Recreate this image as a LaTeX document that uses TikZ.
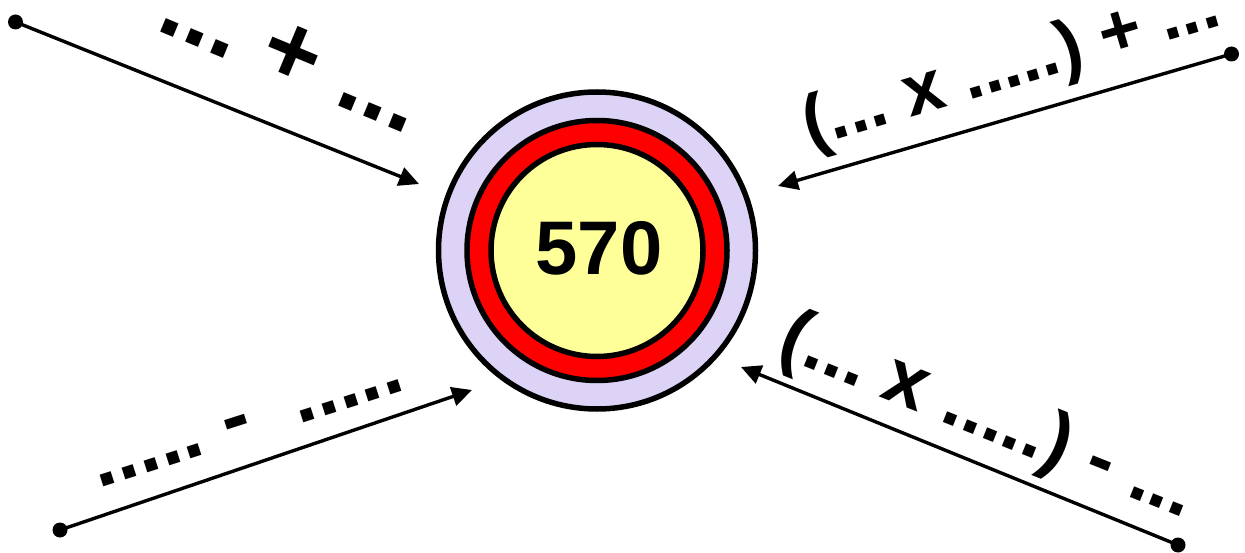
\documentclass[tikz,border=0pt]{standalone}
\usepackage{fontspec}
\setmainfont{Liberation Sans}
\usetikzlibrary{arrows.meta}
\definecolor{lav}{HTML}{DDD3F7}
\definecolor{ylw}{HTML}{FFFF99}
\tikzset{
  ring/.style={circle, draw=black, line width=5.5pt, inner sep=0pt},
  enddot/.style={circle, fill=black, inner sep=0pt, minimum size=15pt},
  conn/.style={line width=3.4pt, -{Triangle[length=20pt,width=19pt]}},
  lbl/.style={inner sep=0pt, anchor=base, font=\bfseries},
}
\newcommand{\fsz}[1]{\fontsize{#1}{#1}\selectfont}
\begin{document}
\begin{tikzpicture}[x=1pt,y=-1pt]
\useasboundingbox (0,0) rectangle (1245,553);
% central rings
\node[ring, fill=lav, minimum size=317pt] (outer) at (597,250.5) {};
\node[ring, fill=red, minimum size=260pt] (mid) at (597,250.5) {};
\node[ring, fill=ylw, minimum size=212pt] (inner) at (597,250.5) {};
\node[inner sep=0pt, font=\bfseries\fsz{76}] (num) at (599,248) {570};
% end dots and arrow tips
\node[enddot] (d1) at (15.5,22) {};
\coordinate (t1) at (419,184);
\node[enddot] (d2) at (1231.5,54) {};
\coordinate (t2) at (778,186);
\node[enddot] (d3) at (60,530) {};
\coordinate (t3) at (472,390);
\node[enddot] (d4) at (1178,545) {};
\coordinate (t4) at (741,367);
\draw[conn] (d1.center) -- (t1);
\draw[conn] (d2.center) -- (t2);
\draw[conn] (d3.center) -- (t3);
\draw[conn] (d4.center) -- (t4);
% labels
\node[lbl, rotate=-22.6, font=\bfseries\fsz{98}] (l1) at (281,82) {...\ +\ ...};
\node[lbl, rotate=16.5, font=\bfseries\fsz{72}] (l2) at (1017,86) {(...\ x\ .....)\ +\ ...};
\node[lbl, rotate=17.7, font=\bfseries\fsz{82}] (l3) at (253,439) {.....\ -\ \ .....};
\node[lbl, rotate=-21.8, font=\bfseries\fsz{77}] (l4) at (980,437) {(...\ x\ .....)\ -\ ...};
\end{tikzpicture}
\end{document}
